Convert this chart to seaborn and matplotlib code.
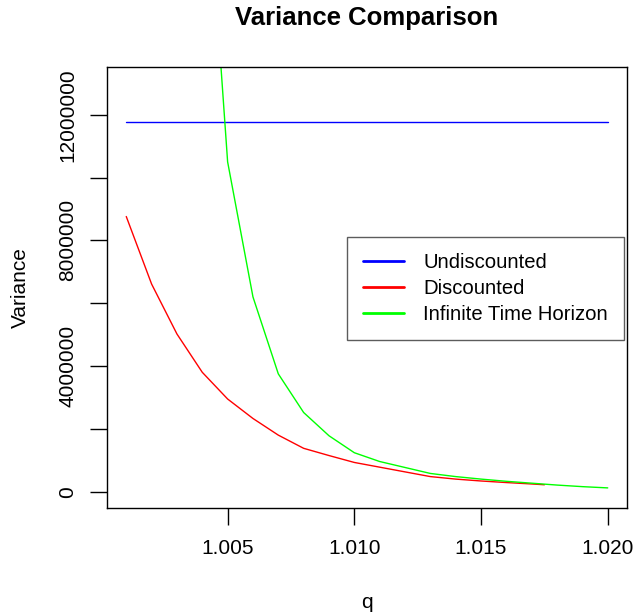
import numpy as np
import pandas as pd
import matplotlib
matplotlib.use("Agg")
import matplotlib.pyplot as plt
import seaborn as sns

# q grid and variance values
q = [1.001, 1.002, 1.003, 1.004, 1.005, 1.006, 1.007, 1.008, 1.009, 1.010,
     1.011, 1.012, 1.013, 1.014, 1.015, 1.016, 1.017, 1.018, 1.019, 1.020]
undiscounted = [11760000] * len(q)

q_disc = [1.001, 1.002, 1.003, 1.004, 1.005, 1.006, 1.007, 1.008, 1.009, 1.010,
          1.011, 1.012, 1.013, 1.014, 1.015, 1.016, 1.017, 1.0175]
discounted = [8760000, 6610000, 5020000, 3800000, 2950000, 2330000, 1800000,
              1380000, 1150000, 930000, 780000, 630000, 480000, 400000,
              340000, 290000, 245000, 220000]

infinite = [400000000, 110000000, 48000000, 22000000, 10500000, 6200000,
            3750000, 2520000, 1780000, 1240000, 960000, 770000, 580000,
            480000, 400000, 330000, 270000, 210000, 160000, 120000]

labels = ["Undiscounted", "Discounted", "Infinite Time Horizon"]
colors = ["#0000ff", "#ff0000", "#00ff00"]

sns.set_style("white")
plt.rcParams["font.family"] = ["Liberation Sans", "DejaVu Sans"]
plt.rcParams["text.color"] = "black"
plt.rcParams["axes.labelcolor"] = "black"
plt.rcParams["xtick.color"] = "black"
plt.rcParams["ytick.color"] = "black"

fig = plt.figure(figsize=(6.36, 6.12), dpi=100)
ax = fig.add_axes([107 / 636, 1 - 508 / 612, 520 / 636, 441 / 612])

df = pd.concat([
    pd.DataFrame({"q": q, "v": undiscounted, "s": labels[0]}),
    pd.DataFrame({"q": q_disc, "v": discounted, "s": labels[1]}),
    pd.DataFrame({"q": q, "v": infinite, "s": labels[2]}),
])
sns.lineplot(data=df, x="q", y="v", hue="s", palette=dict(zip(labels, colors)),
             estimator=None, sort=False, linewidth=1.0, ax=ax)

ax.set_xlim(1.00024, 1.02076)
ax.set_ylim(-520000, 13520000)

ax.set_xticks([1.005, 1.010, 1.015, 1.020])
ax.set_xticklabels(["1.005", "1.010", "1.015", "1.020"])
yt = [0, 2000000, 4000000, 6000000, 8000000, 10000000, 12000000]
ax.set_yticks(yt)
ax.set_yticklabels([str(v) if v % 4000000 == 0 else "" for v in yt],
                   rotation=90, va="center")

ax.tick_params(axis="both", direction="out", length=12.5, width=1,
               color="black", labelcolor="black", labelsize=15,
               bottom=True, left=True)
ax.tick_params(axis="x", pad=10)
ax.tick_params(axis="y", pad=9)
for sp in ax.spines.values():
    sp.set_visible(True)
    sp.set_color("black")
    sp.set_linewidth(1)

ax.set_xlabel("q", fontsize=15, labelpad=25, color="black")
ax.set_ylabel("Variance", fontsize=15, labelpad=20, color="black")
fig.text(367 / 636, 1 - 18 / 612, "Variance Comparison", fontsize=18.5,
         fontweight="bold", ha="center", va="center", color="black")

leg = ax.legend(loc="upper left", bbox_to_anchor=(347 / 636, 1 - 237 / 612),
                bbox_transform=fig.transFigure, borderaxespad=0, fontsize=14.6,
                frameon=True, fancybox=False, handlelength=2.0,
                handletextpad=0.95, labelspacing=0.34, borderpad=0.8)
leg.get_frame().set_edgecolor("#333333")
leg.get_frame().set_linewidth(1)
for t in leg.get_texts():
    t.set_color("black")
for h in leg.get_lines():
    h.set_linewidth(2)

fig.savefig("out.png", dpi=100)
